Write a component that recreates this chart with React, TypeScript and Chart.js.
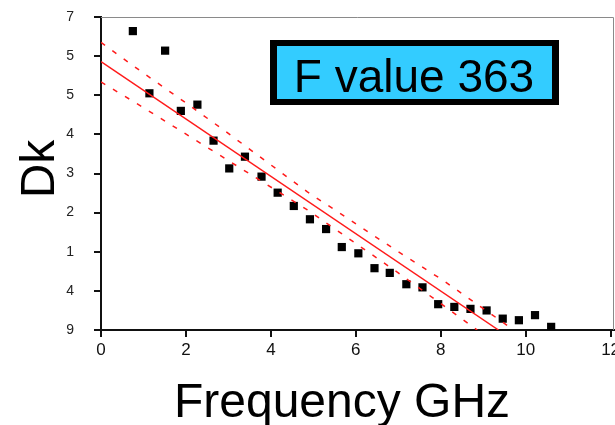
import React, { useEffect, useRef } from 'react';
import { Chart, registerables } from 'chart.js';

Chart.register(...registerables);

// Measured points (x: GHz, y: position on the Dk axis in tick steps 0..8)
const freqGHz = [0.75, 1.14, 1.51, 1.88, 2.27, 2.65, 3.02, 3.39, 3.78, 4.16, 4.54, 4.92, 5.3, 5.67, 6.06, 6.44, 6.8, 7.19, 7.57, 7.94, 8.32, 8.7, 9.08, 9.46, 9.84, 10.22, 10.6];
const dkValues = [7.64, 6.05, 7.14, 5.6, 5.76, 4.84, 4.13, 4.43, 3.92, 3.51, 3.17, 2.83, 2.58, 2.12, 1.96, 1.58, 1.46, 1.17, 1.09, 0.66, 0.59, 0.54, 0.5, 0.29, 0.25, 0.38, 0.08];

// Regression line and confidence band
const fitX = [0, 9.36];
const fitY = [6.86, 0];
const upperX = [0, 0.93, 2.07, 2.89, 4.86, 7.0, 8.04, 9.72];
const upperY = [7.35, 6.62, 5.75, 5.11, 3.53, 2.0, 1.28, 0];
const lowerX = [0, 0.93, 2.07, 4.86, 7.0, 8.86];
const lowerY = [6.34, 5.73, 4.96, 3.07, 1.46, 0];

// Tick labels
const xTicks = [0, 2, 4, 6, 8, 10, 12];
const yTickLabels = ['9', '4', '1', '2', '3', '4', '5', '5', '7'];

const xTitle = 'Frequency GHz';
const yTitle = 'Dk';
const boxText = 'F value 363';

const FONT = '"Liberation Sans", Arial, Helvetica, sans-serif';

const zip = (xs: number[], ys: number[]) => xs.map((x, i) => ({ x, y: ys[i] }));

export default function App() {
  const ref = useRef<HTMLCanvasElement>(null);

  useEffect(() => {
    document.body.style.margin = '0';
    const canvas = ref.current!;

    const decor = {
      id: 'decor',
      afterDraw(chart: any) {
        const ctx = chart.ctx;
        const a = chart.chartArea;
        ctx.save();
        // frame top & right
        ctx.strokeStyle = '#8a8a8a';
        ctx.lineWidth = 1;
        ctx.beginPath();
        ctx.moveTo(a.left, a.top + 0.5);
        ctx.lineTo(a.right - 0.5, a.top + 0.5);
        ctx.lineTo(a.right - 0.5, a.bottom);
        ctx.stroke();

        // F value box
        ctx.fillStyle = '#000';
        ctx.fillRect(270, 40, 289, 65);
        ctx.fillStyle = '#33ccff';
        ctx.fillRect(277, 46, 275, 53);
        ctx.fillStyle = '#000';
        ctx.font = `46px ${FONT}`;
        ctx.textAlign = 'center';
        ctx.textBaseline = 'alphabetic';
        ctx.fillText(boxText, 414, 92);

        // x title
        ctx.font = `48px ${FONT}`;
        ctx.fillText(xTitle, 342, 417);

        // y title
        ctx.translate(37, 169);
        ctx.rotate(-Math.PI / 2);
        ctx.fillText(yTitle, 0, 17);
        ctx.restore();
      },
    };

    const chart = new Chart(canvas, {
      type: 'scatter',
      data: {
        datasets: [
          { label: 'fit', data: zip(fitX, fitY), showLine: true, borderColor: '#ff1a1a', borderWidth: 1.5, pointRadius: 0, order: 1 },
          { label: 'upper', data: zip(upperX, upperY), showLine: true, borderColor: '#ff1a1a', borderWidth: 1.5, borderDash: [5, 9], pointRadius: 0, order: 1 },
          { label: 'lower', data: zip(lowerX, lowerY), showLine: true, borderColor: '#ff1a1a', borderWidth: 1.5, borderDash: [5, 9], pointRadius: 0, order: 1 },
          {
            label: 'Dk',
            data: zip(freqGHz, dkValues),
            pointStyle: 'rect',
            pointRadius: 5.8,
            backgroundColor: '#000',
            borderColor: '#000',
            borderWidth: 0,
            showLine: false,
            order: 2,
          },
        ],
      },
      options: {
        responsive: false,
        animation: false,
        layout: { autoPadding: false, padding: { top: 17, right: 1, left: 0, bottom: 0 } },
        plugins: { legend: { display: false }, tooltip: { enabled: false } },
        scales: {
          x: {
            type: 'linear',
            min: 0,
            max: 12.08,
            afterBuildTicks: (s: any) => {
              s.ticks = xTicks.map((v) => ({ value: v }));
            },
            afterFit: (s: any) => {
              s.height = 95;
              s.paddingLeft = 0;
              s.paddingRight = 0;
            },
            grid: { drawOnChartArea: false, tickLength: 7, tickColor: '#111', lineWidth: 2 },
            border: { color: '#111', width: 2 },
            ticks: {
              color: '#111',
              padding: 3,
              maxRotation: 0,
              autoSkip: false,
              font: { family: FONT, size: 17 },
              callback: (v: any) => String(v),
            },
          },
          y: {
            type: 'linear',
            min: 0,
            max: 8,
            afterBuildTicks: (s: any) => {
              s.ticks = yTickLabels.map((_, i) => ({ value: i }));
            },
            afterFit: (s: any) => {
              s.width = 101;
              s.paddingTop = 0;
              s.paddingBottom = 0;
            },
            grid: { drawOnChartArea: false, tickLength: 7, tickColor: '#111', lineWidth: 2 },
            border: { color: '#111', width: 2 },
            ticks: {
              color: '#222',
              padding: 20,
              autoSkip: false,
              font: { family: FONT, size: 14 },
              callback: (v: any) => yTickLabels[Math.round(Number(v))] ?? '',
            },
          },
        },
      },
      plugins: [decor],
    } as any);

    return () => chart.destroy();
  }, []);

  return (
    <div style={{ width: 615, height: 425, background: '#fff', position: 'relative' }}>
      <canvas ref={ref} width={615} height={425} style={{ width: 615, height: 425, display: 'block' }} />
    </div>
  );
}
